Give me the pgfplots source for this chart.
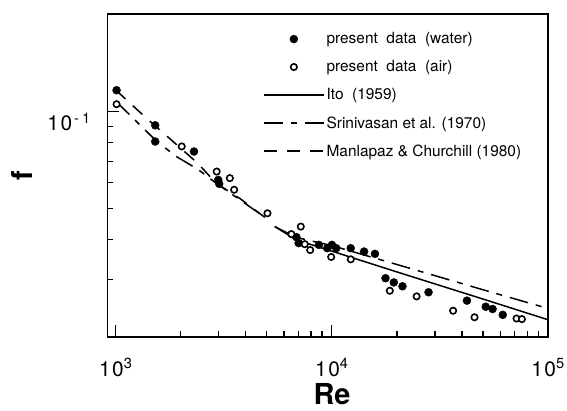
\documentclass[border=0pt]{standalone}
\usepackage{pgfplots}
\pgfplotsset{compat=1.18}
\usepackage{fontspec}
\setmainfont{TeX Gyre Heros}

\begin{document}
\begin{tikzpicture}
\begin{axis}[
  name=ax,
  xmode=log, ymode=log,
  scale only axis,
  width=441bp, height=323bp,
  xmin=912, xmax=100000,
  ymin=0.0198, ymax=0.2024,
  axis line style={line width=1.3bp},
  every tick/.style={black, line width=1.1bp},
  major tick length=12bp, minor tick length=5.5bp,
  tick align=inside, tick pos=left,
  xtick={1000,10000,100000},
  xticklabels={1\kern1.5bp0\textsuperscript{3},1\kern1.5bp0\textsuperscript{4},1\kern1.5bp0\textsuperscript{5}},
  minor xtick={2000,3000,4000,5000,6000,7000,8000,9000,20000,30000,40000,50000,60000,70000,80000,90000},
  ytick={0.1},
  yticklabels={1\kern1.5bp0\textsuperscript{\kern2bp-\kern3bp1}},
  minor ytick={0.03,0.04,0.05,0.06,0.07,0.08,0.09},
  tick label style={font=\fontsize{21}{21}\selectfont},
  xticklabel style={yshift=-18bp},
  yticklabel style={xshift=-13bp, yshift=-10bp},
  xlabel={\textbf{Re}}, ylabel={\textbf{f}},
  label style={font=\fontsize{29}{29}\selectfont},
  xlabel style={at={(axis description cs:0.51,-0.178)}, anchor=center, inner sep=0pt},
  ylabel style={at={(axis description cs:-0.193,0.5)}, anchor=center},
  legend image code/.code={\draw[mark repeat=2,mark phase=2,#1] plot coordinates {(0bp,0bp) (30bp,0bp) (60bp,0bp)};},
  legend style={at={(0.3465,0.955)}, anchor=north west, draw=none, fill=none,
    font=\fontsize{15.5}{17}\selectfont, row sep=11.2bp, legend cell align=left},
]

% legend entries
\addlegendimage{only marks, mark=*, mark size=4bp, black}
\addlegendentry{present~ data~ (water)}
\addlegendimage{only marks, mark=*, mark size=3.2bp, black, mark options={fill=white, line width=1.6bp}}
\addlegendentry{present~ data~ (air)}
\addlegendimage{black, line width=1.5bp}
\addlegendentry{Ito~ (1959)}
\addlegendimage{black, line width=1.5bp, dash pattern=on 19bp off 8bp on 6bp off 8bp}
\addlegendentry{Srinivasan et al. (1970)}
\addlegendimage{black, line width=1.5bp, dash pattern=on 13bp off 10bp}
\addlegendentry{Manlapaz \& Churchill (1980)}

% Manlapaz & Churchill (1980), laminar
\addplot[forget plot, black, line width=1.5bp, dash pattern=on 13bp off 10bp] coordinates {
  (1000,0.117) (1400,0.0950) (1815,0.0815) (2400,0.0690) (2900,0.0600) (3770,0.0535) (4900,0.0468)
};
% Srinivasan et al. (1970), laminar branch
\addplot[forget plot, black, line width=1.5bp, dash pattern=on 19bp off 8bp on 6bp off 8bp] coordinates {
  (1000,0.108) (1550,0.0808) (1910,0.0725) (2410,0.0660) (2900,0.0600) (3770,0.0530) (4900,0.0468)
};
% Srinivasan et al. (1970), turbulent branch
\addplot[forget plot, black, line width=1.5bp, dash pattern=on 19bp off 8bp on 6bp off 8bp] coordinates {
  (5440,0.0438) (6850,0.0405) (10000,0.0382) (20420,0.0332) (50000,0.0278) (100000,0.0243)
};
% Ito (1959), turbulent
\addplot[forget plot, black, line width=1.5bp] coordinates {
  (5440,0.0438) (6850,0.0398) (9510,0.0371) (20000,0.0316) (50000,0.0260) (100000,0.0224)
};

% present data (water)
\addplot[forget plot, only marks, mark=*, mark size=4bp, black] coordinates {
  (1008,0.1169) (1522,0.0908) (1522,0.0808) (2300,0.0752) (2978,0.0613) (3010,0.0596)
  (6852,0.0406) (7015,0.0389) (8703,0.0384) (9510,0.0375) (10000,0.0384) (10470,0.0375)
  (12220,0.0375) (14090,0.0366) (15820,0.0360) (17700,0.0302) (19340,0.0293) (21210,0.0285)
  (28000,0.0273) (42150,0.0257) (51500,0.0246) (55410,0.0242) (61750,0.0232)
};
% present data (air)
\addplot[forget plot, only marks, mark=*, mark size=3.2bp, black, mark options={fill=white, line width=1.6bp}] coordinates {
  (1008,0.1057) (2018,0.0780) (2930,0.0651) (3371,0.0621) (3529,0.0571) (5032,0.0482)
  (6493,0.0415) (7177,0.0438) (7489,0.0386) (7934,0.0370) (9923,0.0352) (12220,0.0346)
  (18530,0.0276) (24650,0.0265) (36390,0.0239) (45700,0.0228) (71500,0.0226) (75700,0.0225)
};
\end{axis}
\pgfresetboundingbox
\path[use as bounding box] ([shift={(-107.2bp,-73.7bp)}]ax.south west) rectangle ([shift={(19bp,14bp)}]ax.north east);
\end{tikzpicture}
\end{document}
